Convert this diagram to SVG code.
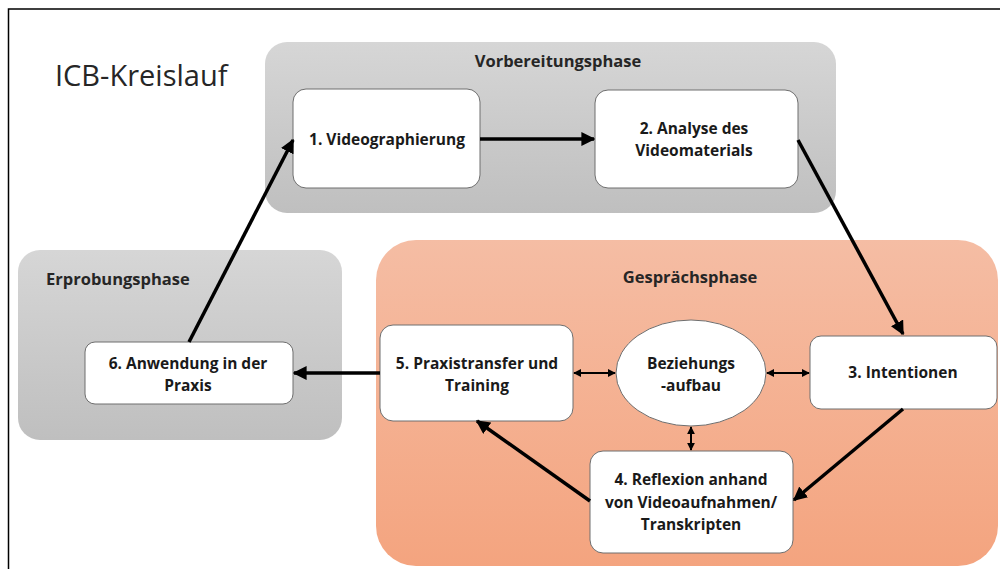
<svg xmlns="http://www.w3.org/2000/svg" width="1000" height="569" viewBox="0 0 1000 569">
<style>
.phase{font-family:"Open Sans","Liberation Sans",sans-serif;font-weight:bold;font-size:16.5px;fill:#262626}
.lbl{font-family:"Open Sans","Liberation Sans",sans-serif;font-weight:bold;font-size:15.5px;fill:#1a1a1a;text-anchor:middle}
.node{fill:#ffffff;stroke:#6e6e6e;stroke-width:1}
.main{stroke:#000;stroke-width:3.5;fill:none;marker-end:url(#ah)}
.dbl{stroke:#000;stroke-width:2;fill:none;marker-start:url(#sh);marker-end:url(#sh)}
</style>
<defs>
<linearGradient id="gray" x1="0" y1="0" x2="0" y2="1"><stop offset="0" stop-color="#d6d6d6"/><stop offset="1" stop-color="#bfbfbf"/></linearGradient>
<linearGradient id="orange" x1="0" y1="0" x2="0" y2="1"><stop offset="0" stop-color="#f5bda4"/><stop offset="1" stop-color="#f4a47f"/></linearGradient>
<marker id="ah" viewBox="0 0 10 10" refX="9" refY="5" markerWidth="4" markerHeight="4" orient="auto"><path d="M0,0 L10,5 L0,10 z" fill="#000"/></marker>
<marker id="sh" viewBox="0 0 10 10" refX="9" refY="5" markerWidth="4" markerHeight="4" orient="auto-start-reverse"><path d="M0,0 L10,5 L0,10 z" fill="#000"/></marker>
</defs>
<rect x="0" y="0" width="1000" height="569" fill="#fff"/>
<rect x="8.5" y="9" width="1000" height="600" fill="none" stroke="#000" stroke-width="1.5"/>
<text x="55" y="86" font-family="Open Sans, Liberation Sans, sans-serif" font-size="29" fill="#262626">ICB-Kreislauf</text>

<g id="phase-vorbereitung">
<rect x="265" y="42" width="571" height="171" rx="22" fill="url(#gray)"/>
<text class="phase" x="558" y="67" text-anchor="middle">Vorbereitungsphase</text>
</g>
<g id="phase-erprobung">
<rect x="18" y="250" width="324" height="190" rx="22" fill="url(#gray)"/>
<text class="phase" x="46" y="285">Erprobungsphase</text>
</g>
<g id="phase-gespraech">
<rect x="376" y="240" width="622" height="326" rx="40" fill="url(#orange)"/>
<text class="phase" x="690" y="283" text-anchor="middle">Gesprächsphase</text>
</g>

<g id="n1"><rect class="node" x="293" y="89" width="187" height="99" rx="13"/><text class="lbl" x="387" y="145">1. Videographierung</text></g>
<g id="n2"><rect class="node" x="595" y="90" width="203" height="98" rx="13"/><text class="lbl" x="694" y="134">2. Analyse des</text><text class="lbl" x="694" y="156">Videomaterials</text></g>
<g id="n3"><rect class="node" x="810" y="336" width="187" height="73" rx="11"/><text class="lbl" x="903" y="378">3. Intentionen</text></g>
<g id="n4"><rect class="node" x="590" y="451" width="203" height="102" rx="13"/><text class="lbl" x="691" y="485">4. Reflexion anhand</text><text class="lbl" x="691" y="508">von Videoaufnahmen/</text><text class="lbl" x="691" y="530">Transkripten</text></g>
<g id="n5"><rect class="node" x="380" y="325" width="193" height="96" rx="13"/><text class="lbl" x="477" y="369">5. Praxistransfer und</text><text class="lbl" x="477" y="391">Training</text></g>
<g id="n6"><rect class="node" x="85" y="342" width="208" height="62" rx="10"/><text class="lbl" x="188" y="369">6. Anwendung in der</text><text class="lbl" x="188" y="391">Praxis</text></g>
<g id="nb"><ellipse class="node" cx="691" cy="373" rx="75" ry="53"/><text class="lbl" x="691" y="369">Beziehungs</text><text class="lbl" x="691" y="391">-aufbau</text></g>

<g id="connectors">
<line class="main" x1="480" y1="139" x2="594" y2="139"/>
<line class="main" x1="798" y1="140" x2="903" y2="334"/>
<line class="main" x1="903" y1="409" x2="794" y2="500"/>
<line class="main" x1="590" y1="501" x2="477" y2="421"/>
<line class="main" x1="380" y1="373" x2="294" y2="373"/>
<line class="main" x1="189" y1="342" x2="293" y2="140"/>
<line class="dbl" x1="574" y1="373" x2="615" y2="373"/>
<line class="dbl" x1="767" y1="373" x2="809" y2="373"/>
<line class="dbl" x1="691" y1="427" x2="691" y2="450"/>
</g>
</svg>
